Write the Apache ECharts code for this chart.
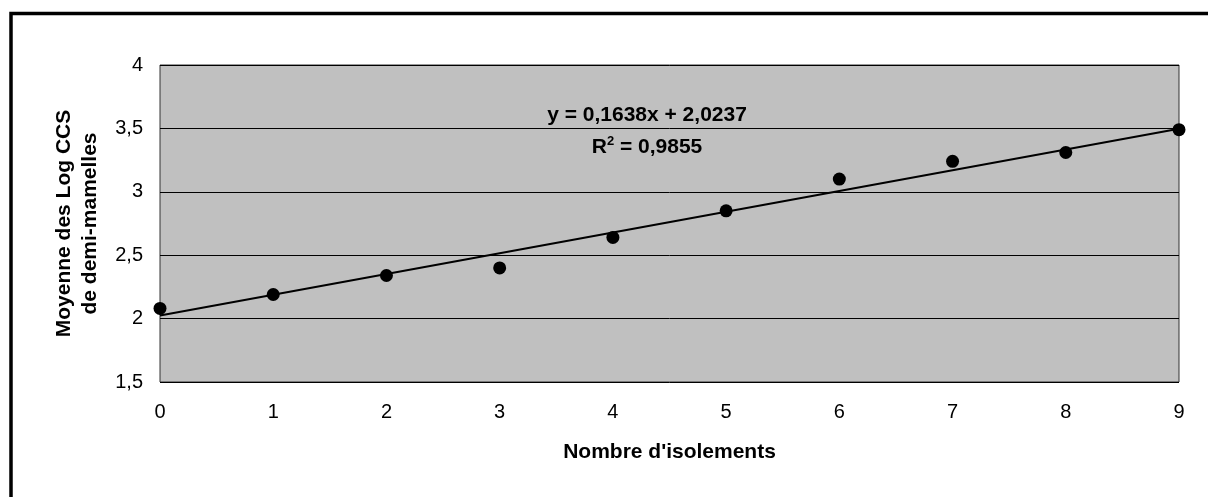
<!DOCTYPE html>
<html>
<head>
<meta charset="utf-8">
<script src="https://cdn.jsdelivr.net/npm/echarts@6/dist/echarts.min.js"></script>
<style>
html,body{margin:0;padding:0;background:#fff;}
#chart{width:1208px;height:497px;}
</style>
</head>
<body>
<div id="chart"></div>
<script>
const xValues = [0, 1, 2, 3, 4, 5, 6, 7, 8, 9];
const yValues = [2.08, 2.19, 2.34, 2.40, 2.64, 2.85, 3.10, 3.24, 3.31, 3.49];
const trendX = [0, 9];
const trendY = [2.0237, 3.4979];
const equationLine1 = 'y = 0,1638x + 2,0237';
const equationLine2 = '0,9855';
const xAxisTitle = "Nombre d'isolements";
const yAxisTitle = 'Moyenne des Log CCS\nde demi-mamelles';

const chart = echarts.init(document.getElementById('chart'));
const font = '"Liberation Sans", Arial, sans-serif';
chart.setOption({
  animation: false,
  backgroundColor: '#fff',
  grid: {left: 160, top: 65, right: 29, bottom: 115, show: true, backgroundColor: '#C0C0C0', borderColor: '#333', borderWidth: 1},
  xAxis: {
    type: 'value', min: 0, max: 9, interval: 1,
    name: xAxisTitle, nameLocation: 'middle', nameGap: 60,
    nameTextStyle: {fontFamily: font, fontWeight: 'bold', fontSize: 21, color: '#000'},
    axisLine: {show: false}, axisTick: {show: false},
    axisLabel: {fontFamily: font, fontSize: 20, color: '#000', margin: 20, formatter: v => String(v)},
    splitLine: {show: false}
  },
  yAxis: {
    type: 'value', min: 1.5, max: 4, interval: 0.5,
    name: yAxisTitle, nameLocation: 'middle', nameGap: 57, nameRotate: 90,
    nameTextStyle: {fontFamily: font, fontWeight: 'bold', fontSize: 21, color: '#000', lineHeight: 26, align: 'center'},
    axisLine: {show: false}, axisTick: {show: false},
    axisLabel: {fontFamily: font, fontSize: 20, color: '#000', margin: 17, formatter: v => String(v).replace('.', ',')},
    splitLine: {show: true, lineStyle: {color: '#000', width: 1}}
  },
  series: [
    {
      type: 'line', data: trendX.map((x, i) => [x, trendY[i]]),
      symbol: 'none', lineStyle: {color: '#000', width: 2}, z: 2
    },
    {
      type: 'scatter', data: xValues.map((x, i) => [x, yValues[i]]),
      symbol: 'circle', symbolSize: 13, itemStyle: {color: '#000', opacity: 1}, z: 3
    }
  ],
  graphic: [
    {type: 'rect', shape: {x: 11, y: 13.5, width: 1300, height: 700}, style: {fill: 'none', stroke: '#000', lineWidth: 3.5}, silent: true},
    {type: 'text', x: 647, y: 115, style: {text: equationLine1, font: 'bold 21px ' + font, fill: '#000', textAlign: 'center', textVerticalAlign: 'middle'}},
    {type: 'text', x: 647, y: 146, style: {
      text: '{a|R}{s|2}{a| = ' + equationLine2 + '}',
      textAlign: 'center', textVerticalAlign: 'middle',
      rich: {
        a: {font: 'bold 21px ' + font, fill: '#000', color: '#000', verticalAlign: 'bottom'},
        s: {font: 'bold 13px ' + font, fill: '#000', color: '#000', verticalAlign: 'top', padding: [0, 0, 10, 0]}
      }
    }}
  ]
});
</script>
</body>
</html>
